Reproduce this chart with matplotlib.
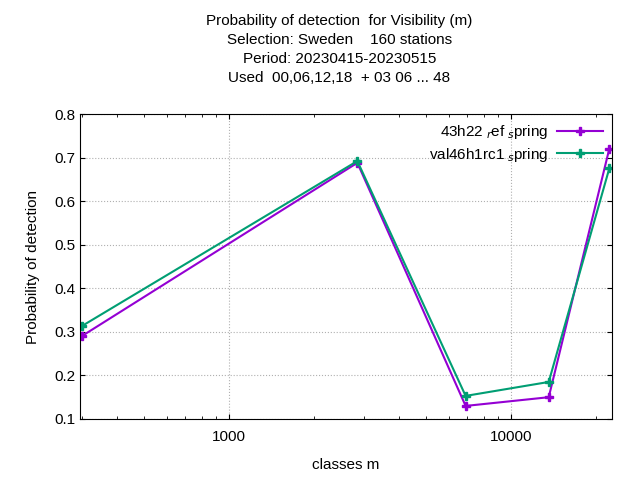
import matplotlib
matplotlib.use("Agg")
import matplotlib.pyplot as plt

classes = [300, 2850, 6900, 13600, 22300]
ref_spring = [0.29, 0.688, 0.13, 0.15, 0.72]
val_spring = [0.313, 0.692, 0.153, 0.185, 0.675]

plt.rcParams['font.family'] = ['Liberation Sans', 'DejaVu Sans']
fig = plt.figure(figsize=(6.4, 4.8), dpi=100)
ax = fig.add_axes([80/640, 1-419/480, 532/640, 305/480])

ax.plot(classes, ref_spring, color='#9400d3', marker='P', ms=6, lw=1.5,
        label='43h22$_{\\ r}$ef$_{\\ s}$pring')
ax.plot(classes, val_spring, color='#009e73', marker='P', ms=6, lw=1.5,
        label='val46h1rc1$_{\\ s}$pring')

ax.set_xscale('log')
ax.set_xlim(296, 22800)
ax.set_ylim(0.1, 0.8)
ax.set_xticks([1000, 10000])
ax.set_xticklabels(['1000', '10000'])
ax.set_yticks([0.1, 0.2, 0.3, 0.4, 0.5, 0.6, 0.7, 0.8])
ax.grid(True, color='#b0b0b0', ls=':', lw=0.8)
ax.tick_params(direction='in', which='both', top=True, right=True, labelsize=11)
ax.tick_params(axis='x', pad=8)
ax.set_xlabel('classes m', fontsize=11, labelpad=10)
ax.set_ylabel('Probability of detection', fontsize=11, labelpad=10)
ax.legend(loc='upper right', frameon=False, fontsize=11, handlelength=3,
          markerfirst=False, borderaxespad=0.2, labelspacing=0.3, handletextpad=0.6)

fig.text(0.53, 0.97, 'Probability of detection  for Visibility (m)\nSelection: Sweden    160 stations\n'
         'Period: 20230415-20230515\nUsed  00,06,12,18  + 03 06 ... 48',
         ha='center', va='top', fontsize=11, linespacing=1.45)

fig.savefig('out.png', dpi=100)
